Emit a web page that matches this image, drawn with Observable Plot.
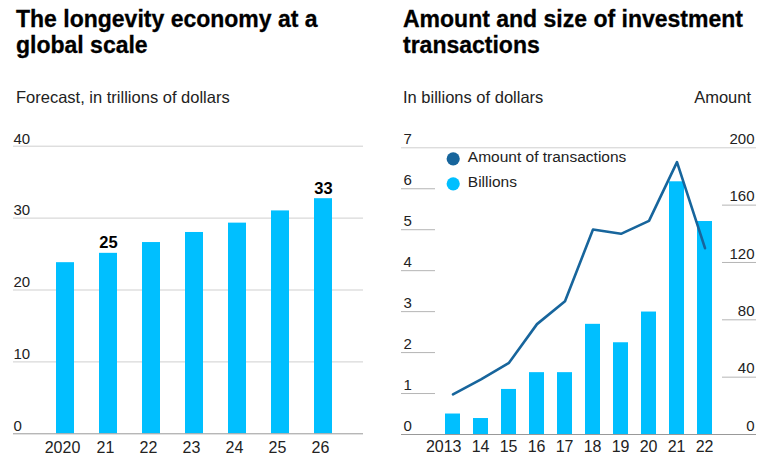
<!DOCTYPE html>
<html>
<head>
<meta charset="utf-8">
<script src="https://cdn.jsdelivr.net/npm/d3@7"></script>
<script src="https://cdn.jsdelivr.net/npm/@observablehq/plot@0.6"></script>
<style>
  body { margin: 0; background: #fff; }
  #wrap { position: relative; width: 783px; height: 468px; font-family: "Liberation Sans", Arial, sans-serif; color: #111; overflow: hidden; }
  .title { position: absolute; top: 6px; font-weight: bold; font-size: 23px; line-height: 26px; color: #000; -webkit-text-stroke: 0.3px #000; }
  .sub { position: absolute; top: 87px; font-size: 16.5px; line-height: 20px; color: #222; }
  .chart { position: absolute; top: 120px; }
</style>
</head>
<body>
<div id="wrap">
  <div class="title" style="left:16px; width:340px;">The longevity economy at a global scale</div>
  <div class="sub" style="left:16px;">Forecast, in trillions of dollars</div>
  <div class="title" style="left:403px; width:370px;">Amount and size of investment transactions</div>
  <div class="sub" style="left:403px;">In billions of dollars</div>
  <div class="sub" style="right:32px;">Amount</div>
  <div id="left" class="chart" style="left:0px;"></div>
  <div id="right" class="chart" style="left:390px;"></div>
</div>
<script>
// ---- Left chart data ----
const leftYears = ["2020", "21", "22", "23", "24", "25", "26"];
const leftValues = [23.8, 25.1, 26.6, 28.0, 29.3, 31.0, 32.7];
const leftLabeledYears = ["21", "26"];
const leftTicks = [0, 10, 20, 30, 40];

// ---- Right chart data ----
const rightYears = ["2013", "14", "15", "16", "17", "18", "19", "20", "21", "22"];
const billions = [0.5, 0.39, 1.1, 1.51, 1.51, 2.69, 2.24, 2.99, 6.17, 5.2];
const amounts = [28, 38.5, 50, 77, 93, 143, 140, 149, 190, 130];
const billionsTicks = [0, 1, 2, 3, 4, 5, 6, 7];
const amountTicks = [0, 40, 80, 120, 160, 200];
const legendLabels = ["Amount of transactions", "Billions"];

const barColor = "#00bfff";
const lineColor = "#17659c";
const ink = "#222";

const leftData = leftYears.map((year, i) => ({year, value: leftValues[i]}));
const rightData = rightYears.map((year, i) => ({year, billions: billions[i], amount: amounts[i]}));

// Right (amount) axis mapped onto the billions axis: 200 ↔ 7
const k = 7 / 200;

const leftPlot = Plot.plot({
  width: 385,
  height: 345,
  marginLeft: 13,
  marginRight: 22,
  marginTop: 25.7,
  marginBottom: 31.7,
  style: {fontFamily: "'Liberation Sans', Arial, sans-serif", color: ink, background: "transparent", overflow: "visible"},
  x: {domain: leftYears, paddingInner: 0.586, paddingOuter: 0.816, align: 0.577},
  y: {domain: [0, 40], axis: null},
  marks: [
    Plot.ruleY(leftTicks.filter(d => d > 0), {stroke: "#cfcfcf"}),
    Plot.barY(leftData, {x: "year", y: "value", fill: barColor}),
    Plot.ruleY([0], {stroke: "#999"}),
    Plot.text(leftTicks, {y: d => d, text: d => String(d), frameAnchor: "left", textAnchor: "start", lineAnchor: "middle", dx: 0, dy: -7.5, fontSize: 15, fill: ink}),
    Plot.axisX({tickSize: 0, tickPadding: 8, fontSize: 16, dx: -3, label: null}),
    Plot.text(leftData.filter(d => leftLabeledYears.includes(d.year)), {
      x: "year", y: "value", text: d => String(Math.round(d.value)),
      lineAnchor: "bottom", dy: -5, fontWeight: "bold", fontSize: 16.5, fill: "#000"
    })
  ]
});
document.getElementById("left").appendChild(leftPlot);

const rightPlot = Plot.plot({
  width: 393,
  height: 345,
  marginLeft: 11,
  marginRight: 27,
  marginTop: 27.3,
  marginBottom: 31,
  style: {fontFamily: "'Liberation Sans', Arial, sans-serif", color: ink, background: "transparent", overflow: "visible"},
  x: {domain: rightYears, paddingInner: 0.4615, paddingOuter: 1.44, align: 0.5},
  y: {domain: [0, 7], axis: null},
  marks: [
    Plot.ruleY([7], {stroke: "#cfcfcf"}),
    Plot.ruleY(billionsTicks.filter(d => d > 0 && d < 7), {stroke: "#b5b5b5", insetRight: 321}),
    Plot.ruleY(amountTicks.filter(d => d > 0 && d < 200), {y: d => d * k, stroke: "#b5b5b5", insetLeft: 321}),
    Plot.barY(rightData, {x: "year", y: "billions", fill: barColor}),
    Plot.ruleY([0], {stroke: "#999"}),
    Plot.line(rightData, {x: "year", y: d => d.amount * k, stroke: lineColor, strokeWidth: 2.6}),
    Plot.text(billionsTicks, {y: d => d, text: d => String(d), frameAnchor: "left", textAnchor: "start", lineAnchor: "middle", dx: 2, dy: -8.5, fontSize: 15, fill: ink}),
    Plot.text(amountTicks, {y: d => d * k, text: d => String(d), frameAnchor: "right", textAnchor: "end", lineAnchor: "middle", dx: -2, dy: -8.5, fontSize: 15, fill: ink}),
    Plot.axisX({tickSize: 0, tickPadding: 6, fontSize: 16, textAnchor: "end", dx: 8.5, label: null}),
    Plot.dot([legendLabels[0]], {frameAnchor: "top-left", dx: 51.7, dy: 11, r: 6.6, fill: lineColor, stroke: null}),
    Plot.dot([legendLabels[1]], {frameAnchor: "top-left", dx: 51.7, dy: 36, r: 6.6, fill: barColor, stroke: null}),
    Plot.text([legendLabels[0]], {text: d => d, frameAnchor: "top-left", lineAnchor: "middle", dx: 66.3, dy: 9.5, textAnchor: "start", fontSize: 15.5, fill: ink}),
    Plot.text([legendLabels[1]], {text: d => d, frameAnchor: "top-left", lineAnchor: "middle", dx: 66.3, dy: 34.5, textAnchor: "start", fontSize: 15.5, fill: ink})
  ]
});
document.getElementById("right").appendChild(rightPlot);
</script>
</body>
</html>
